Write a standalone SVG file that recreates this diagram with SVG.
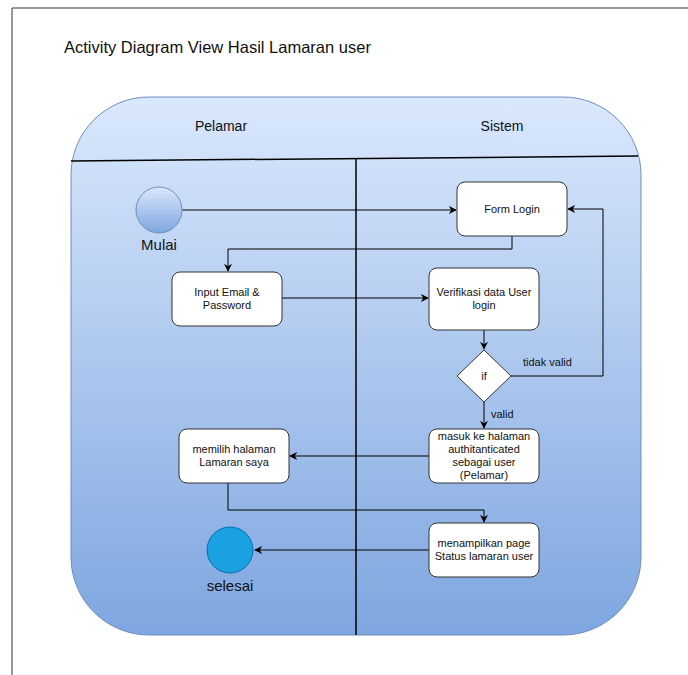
<svg xmlns="http://www.w3.org/2000/svg" width="688" height="675" viewBox="0 0 688 675">
<defs>
<linearGradient id="blue" x1="0" y1="0" x2="0" y2="1">
<stop offset="0" stop-color="#dae8fc"/>
<stop offset="1" stop-color="#7ea6e0"/>
</linearGradient>
<marker id="arr" viewBox="0 0 10 10" refX="9" refY="5" markerWidth="8" markerHeight="8" markerUnits="userSpaceOnUse" orient="auto">
<path d="M0,0 L10,5 L0,10 L3,5 Z" fill="#000"/>
</marker>
<style>
text{font-family:"Liberation Sans",Arial,sans-serif;fill:#111;}
.node{fill:#fff;stroke:#333;stroke-width:1;}
.t{font-size:11px;text-anchor:middle;}
.lbl{font-size:14px;text-anchor:middle;}
.conn{fill:none;stroke:#000;stroke-width:1;marker-end:url(#arr);}
</style>
</defs>
<rect width="688" height="675" fill="#fff"/>
<path d="M12,675 V8 H688" fill="none" stroke="#333" stroke-width="1"/>
<text x="64" y="53" style="font-size:16.5px">Activity Diagram View Hasil Lamaran user</text>
<g id="pool">
<rect x="71" y="97" width="570" height="538" rx="78" ry="78" fill="url(#blue)" stroke="#6c8ebf" stroke-width="1"/>
<line x1="71" y1="161" x2="638" y2="156" stroke="#000" stroke-width="1.5"/>
<line x1="356" y1="158.5" x2="356" y2="635" stroke="#000" stroke-width="1.5"/>
<text x="221" y="131" class="lbl">Pelamar</text>
<text x="502" y="131" class="lbl">Sistem</text>
</g>
<g id="connectors">
<path class="conn" d="M182,210 H456"/>
<path class="conn" d="M512,236 V249 H228 V271"/>
<path class="conn" d="M282,298 H428"/>
<path class="conn" d="M484,330 V349"/>
<path class="conn" d="M511,376 H603 V209 H568"/>
<path class="conn" d="M484,402 V428"/>
<path class="conn" d="M429,456 H290"/>
<path class="conn" d="M228,483 V510 H484 V522"/>
<path class="conn" d="M429,550 H255"/>
<text x="523" y="366" style="font-size:11px">tidak valid</text>
<text x="491" y="418" style="font-size:11px">valid</text>
</g>
<g id="start">
<circle cx="159" cy="210" r="23" fill="url(#blue)" stroke="#6c8ebf"/>
<text x="159" y="250" style="font-size:15px;text-anchor:middle">Mulai</text>
</g>
<g id="formLogin">
<rect class="node" x="457" y="182" width="110" height="54" rx="8"/>
<text class="t" x="512" y="213">Form Login</text>
</g>
<g id="inputEmail">
<rect class="node" x="172" y="272" width="110" height="54" rx="8"/>
<text class="t" x="227" y="296">Input Email &amp;</text>
<text class="t" x="227" y="309">Password</text>
</g>
<g id="verifikasi">
<rect class="node" x="429" y="268" width="110" height="62" rx="8"/>
<text class="t" x="484" y="296">Verifikasi data User</text>
<text class="t" x="484" y="309">login</text>
</g>
<g id="decision">
<path class="node" d="M484,350 L511,376 L484,402 L457,376 Z"/>
<text class="t" x="484" y="380">if</text>
</g>
<g id="masuk">
<rect class="node" x="429" y="429" width="110" height="54" rx="8"/>
<text class="t" x="484" y="440">masuk ke halaman</text>
<text class="t" x="484" y="453">authitanticated</text>
<text class="t" x="484" y="466">sebagai user</text>
<text class="t" x="484" y="479">(Pelamar)</text>
</g>
<g id="memilih">
<rect class="node" x="179" y="429" width="110" height="54" rx="8"/>
<text class="t" x="234" y="453">memilih halaman</text>
<text class="t" x="234" y="466">Lamaran saya</text>
</g>
<g id="menampilkan">
<rect class="node" x="429" y="523" width="110" height="54" rx="8"/>
<text class="t" x="484" y="547">menampilkan page</text>
<text class="t" x="484" y="560">Status lamaran user</text>
</g>
<g id="end">
<circle cx="230" cy="550" r="23" fill="#1ba1e2" stroke="#006eaf"/>
<text x="230" y="591" style="font-size:15px;text-anchor:middle">selesai</text>
</g>
</svg>
